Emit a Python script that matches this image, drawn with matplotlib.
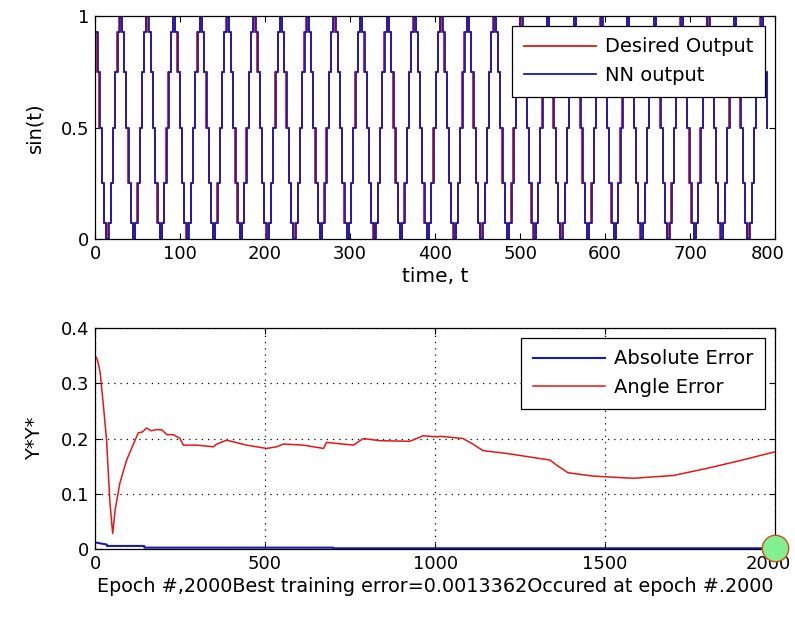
import numpy as np
import matplotlib
matplotlib.use("Agg")
import matplotlib.pyplot as plt
import matplotlib.transforms as mtransforms

plt.rcParams['font.family'] = ['DejaVu Sans']
plt.rcParams['font.size'] = 13.5

cycle_levels = [0.93, 0.75, 0.5, 0.25, 0.07, 0.0, 0.07, 0.25, 0.5, 0.75, 0.93, 1.0]
sample_step = 2.618
n_samples = 303
nn_lag = 0.35

# --- bottom panel: training errors vs epoch ---
angle_epoch = [0, 7, 15, 25, 34, 44, 52, 59, 73, 93, 113, 127, 140, 152, 165, 181,
               196, 211, 230, 250, 260, 300, 348, 358, 387, 446, 505, 534, 554,
               613, 672, 681, 760, 789, 838, 926, 965, 1005, 1015, 1082, 1111,
               1141, 1210, 1338, 1357, 1391, 1465, 1582, 1700, 1800, 1897, 2000]
angle_err = [0.350, 0.343, 0.320, 0.258, 0.197, 0.083, 0.028, 0.070, 0.119, 0.161,
             0.190, 0.210, 0.212, 0.219, 0.214, 0.216, 0.216, 0.207, 0.207, 0.200,
             0.188, 0.188, 0.185, 0.190, 0.197, 0.188, 0.182, 0.185, 0.190, 0.188,
             0.182, 0.193, 0.188, 0.200, 0.196, 0.195, 0.205, 0.203, 0.204, 0.200,
             0.190, 0.178, 0.173, 0.161, 0.152, 0.138, 0.132, 0.128, 0.133, 0.146,
             0.160, 0.176]
abs_epoch = [0, 35, 35, 145, 145, 700, 700, 2000]
abs_err = [0.012, 0.008, 0.0055, 0.0055, 0.0025, 0.0025, 0.0013, 0.0013]
best_epoch = 2000
best_err = 0.0013362

RED = '#e01818'
BLUE = '#1a1ab4'

time = np.arange(n_samples) * sample_step
desired = np.resize(cycle_levels, n_samples)

fig = plt.figure(figsize=(7.95, 6.17), dpi=100)
ax1 = fig.add_axes([0.1195, 0.6126, 0.8555, 0.3614])
ax2 = fig.add_axes([0.1195, 0.1102, 0.8555, 0.3582])

ax1.step(time, desired, where='post', color=RED, lw=1.3, label='Desired Output')
ax1.step(time + nn_lag, desired, where='post', color=BLUE, lw=1.3, label='NN output')
ax1.set_xlim(0, 800)
ax1.set_ylim(0, 1)
ax1.set_xticks(np.arange(0, 801, 100))
ax1.set_yticks([0, 0.5, 1])
ax1.set_yticklabels(['0', '0.5', '1'])
ax1.set_xlabel('time, t', labelpad=3, fontsize=14.5)
ax1.set_ylabel('sin(t)', labelpad=12, fontsize=14)

ax2.plot(abs_epoch, abs_err, color=BLUE, lw=1.5, label='Absolute Error')
ax2.plot(angle_epoch, angle_err, color=RED, lw=1.1, label='Angle Error')
ax2.plot([best_epoch], [best_err], 'o', ms=19, mfc='#80f090', mec='#d05020',
         mew=1.0, clip_on=False, zorder=5)
ax2.set_xlim(0, 2000)
ax2.set_ylim(0, 0.4)
ax2.set_xticks(np.arange(0, 2001, 500))
ax2.set_yticks(np.arange(0, 0.41, 0.1))
ax2.set_yticklabels(['0', '0.1', '0.2', '0.3', '0.4'])
ax2.grid(True, color='black', linestyle=(0, (1, 4)), linewidth=0.9)
ax2.set_xlabel('Epoch #,2000Best training error=0.0013362Occured at epoch #.2000',
               labelpad=3, fontsize=13.8)
ax2.set_ylabel('Y*Y*', labelpad=12, fontsize=14)

for ax in (ax1, ax2):
    leg = ax.legend(loc='upper right', fancybox=False, framealpha=1, edgecolor='black',
                    handlelength=3.7, handletextpad=0.5, borderpad=0.6,
                    labelspacing=0.5, borderaxespad=0.5, fontsize=14)
    leg.get_frame().set_linewidth(0.9)
    ax.tick_params(direction='in', top=True, right=True, length=4, pad=4,
                   labelsize=13)
    for s in ax.spines.values():
        s.set_linewidth(0.9)

# keep the right-most tick labels inside the canvas
nudge = mtransforms.ScaledTranslation(-5 / 72, 0, fig.dpi_scale_trans)
for ax in (ax1, ax2):
    last = ax.get_xticklabels()[-1]
    last.set_transform(last.get_transform() + nudge)

fig.savefig('out.png', dpi=100)
